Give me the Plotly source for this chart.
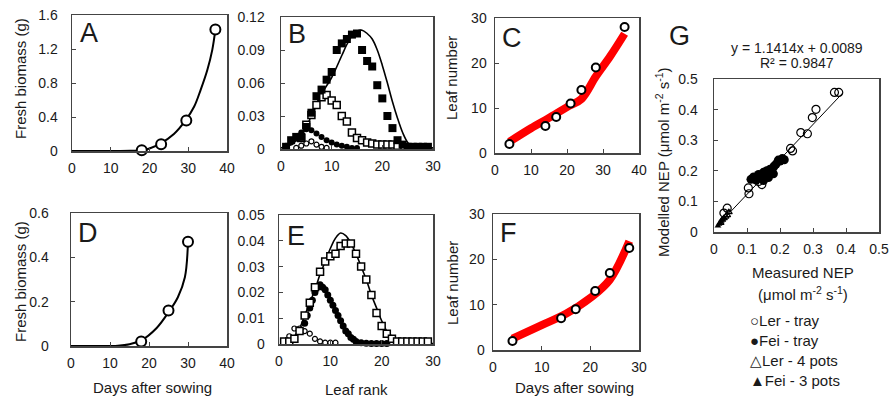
import plotly.graph_objects as go

W, H = 891, 397

# ---------------- data ----------------
# A: Ler fresh biomass
a_obs_day = [18, 23, 29.5, 37]
a_obs_mass = [0.01, 0.08, 0.36, 1.43]
a_mod_day = [0, 5, 10, 15, 18, 20, 22.8, 26.3, 29.3, 31.5, 33.2, 34.9, 36.2, 37]
a_mod_mass = [0, 0, 0, 0.002, 0.01, 0.03, 0.087, 0.2, 0.36, 0.52, 0.72, 0.95, 1.19, 1.43]

# D: Fei fresh biomass
d_obs_day = [18, 25, 30]
d_obs_mass = [0.02, 0.16, 0.47]
d_mod_day = [0, 5, 10, 12, 15, 18, 21.9, 25.3, 27.4, 29.2, 30]
d_mod_mass = [0, 0, 0, 0.001, 0.008, 0.025, 0.08, 0.16, 0.22, 0.31, 0.47]

# B: leaf mass by leaf rank (Ler)
b_fsq_rank = [1, 2, 3, 4, 5, 6, 7, 8, 9, 10, 11, 12, 13, 14, 15, 16, 17, 18, 19, 20, 21, 22, 23, 24, 25, 26, 27, 28, 29]
b_fsq_mass = [0.002, 0.008, 0.011, 0.011, 0.02, 0.033, 0.048, 0.054, 0.063, 0.07, 0.09, 0.096, 0.1, 0.104, 0.105, 0.09, 0.08, 0.075, 0.058, 0.046, 0.03, 0.019, 0.008, 0.004, 0.002, 0.002, 0.002, 0.002, 0.002]
b_osq_rank = [4, 5, 6, 7, 8, 9, 10, 11, 12, 13, 14, 15, 16, 17, 18, 19, 20, 21, 22, 23]
b_osq_mass = [0.01, 0.022, 0.031, 0.04, 0.047, 0.049, 0.044, 0.04, 0.03, 0.025, 0.015, 0.01, 0.008, 0.006, 0.005, 0.004, 0.004, 0.004, 0.004, 0.003]
b_fci_rank = [1, 2, 3, 4, 5, 6, 7, 8, 9, 10, 11, 12, 13, 14, 15]
b_fci_mass = [0.003, 0.006, 0.01, 0.015, 0.018, 0.017, 0.014, 0.011, 0.008, 0.006, 0.004, 0.003, 0.002, 0.001, 0.001]
b_oci_rank = [3, 4, 5, 6, 7, 8, 9]
b_oci_mass = [0.001, 0.003, 0.005, 0.007, 0.004, 0.002, 0.001]
b_mod_rank = [0, 2, 4, 6, 8, 10, 12, 13, 14, 15, 16, 17, 18, 19, 20, 21, 22, 23, 24, 25, 26, 27, 30]
b_mod_mass = [0.001, 0.004, 0.012, 0.03, 0.05, 0.065, 0.085, 0.095, 0.103, 0.107, 0.108, 0.105, 0.1, 0.09, 0.076, 0.06, 0.043, 0.028, 0.015, 0.006, 0.002, 0.001, 0.001]

# E: leaf mass by leaf rank (Fei)
e_osq_rank = list(range(1, 30))
e_osq_mass = [0.001, 0.001, 0.002, 0.005, 0.011, 0.016, 0.022, 0.028, 0.032, 0.034, 0.035, 0.038, 0.039, 0.039, 0.035, 0.03, 0.025, 0.019, 0.012, 0.007, 0.004, 0.002, 0.001, 0.001, 0.001, 0.001, 0.001, 0.001, 0.001]
e_fci_rank = [5, 5.5, 6, 6.5, 7, 7.5, 8, 8.5, 9, 9.5, 10, 10.5, 11, 11.5, 12, 12.5, 13, 13.5, 14, 14.5, 15, 16, 17, 18, 19, 20, 21]
e_fci_mass = [0.008, 0.011, 0.014, 0.017, 0.02, 0.022, 0.023, 0.022, 0.021, 0.019, 0.017, 0.015, 0.013, 0.011, 0.009, 0.007, 0.005, 0.004, 0.0025, 0.0018, 0.001, 0.0005, 0.0003, 0.0002, 0.0002, 0.0002, 0.0002]
e_oci_rank = [1, 2, 3, 4, 5, 6, 7, 8, 9, 10, 11]
e_oci_mass = [0.001, 0.003, 0.006, 0.006, 0.005, 0.004, 0.002, 0.001, 0.0005, 0.0005, 0.0005]
e_mod_rank = [1, 2, 3, 4, 5, 6, 7, 8, 9, 10, 11, 12, 13, 14, 15, 16, 17, 18, 19, 20, 21, 22, 23, 24, 25, 30]
e_mod_mass = [0.0005, 0.001, 0.003, 0.006, 0.011, 0.016, 0.021, 0.027, 0.032, 0.037, 0.041, 0.043, 0.042, 0.039, 0.035, 0.03, 0.025, 0.019, 0.014, 0.009, 0.005, 0.003, 0.0015, 0.0007, 0.0003, 0.0002]

# C: Ler leaf number
c_obs_day = [4, 14, 17, 21, 24, 28, 36]
c_obs_leaf = [2, 6, 8, 11, 14, 19, 28]
c_mod_day = [4, 10, 15, 20, 24, 28, 32, 36]
c_mod_leaf = [2.5, 5.5, 7.8, 10.2, 12, 17, 21.5, 26.5]

# F: Fei leaf number
f_obs_day = [4, 14, 17, 21, 24, 28]
f_obs_leaf = [2, 7, 9, 13, 17, 22.5]
f_mod_day = [4, 10, 15, 20, 24, 28]
f_mod_leaf = [2.5, 5.5, 8, 11.5, 15.5, 24]

# G: modelled vs measured NEP
g_ler_tray_x = [0.365, 0.378, 0.309, 0.298, 0.263, 0.283, 0.232, 0.238, 0.104, 0.106, 0.145, 0.135, 0.040, 0.030]
g_ler_tray_y = [0.456, 0.456, 0.401, 0.374, 0.325, 0.321, 0.273, 0.265, 0.144, 0.125, 0.155, 0.165, 0.078, 0.062]
g_fei_tray_x = [0.112, 0.120, 0.128, 0.135, 0.142, 0.150, 0.155, 0.160, 0.165, 0.170, 0.176, 0.182, 0.188, 0.195, 0.200, 0.207, 0.213, 0.150, 0.165, 0.180]
g_fei_tray_y = [0.172, 0.180, 0.170, 0.188, 0.182, 0.195, 0.190, 0.200, 0.185, 0.205, 0.198, 0.215, 0.222, 0.235, 0.232, 0.240, 0.236, 0.168, 0.178, 0.190]
g_ler_pots_x = [0.020, 0.025, 0.030, 0.035, 0.040, 0.045]
g_ler_pots_y = [0.030, 0.040, 0.045, 0.050, 0.055, 0.065]
g_fei_pots_x = [0.012, 0.015, 0.018, 0.022, 0.025, 0.030]
g_fei_pots_y = [0.020, 0.025, 0.030, 0.035, 0.040, 0.045]
g_slope, g_intercept = 1.1414, 0.0089
g_fit_x = [0.01, 0.39]
legend_labels = ["○Ler - tray", "●Fei - tray", "△Ler - 4 pots", "▲Fei - 3 pots"]

# ---------------- layout helpers ----------------
FONT = "Liberation Sans, Arial, sans-serif"
TXT = "#1a1a1a"
LINE = "#444"


def px(x, y):
    return x / W, 1 - y / H


def dom(x0, y0, x1, y1):
    return dict(domain=[x0 / W, x1 / W]), dict(domain=[1 - y1 / H, 1 - y0 / H])


fig = go.Figure()

open_c = dict(symbol="circle", color="white", size=10, line=dict(color="black", width=2))


def add(tr, k):
    ax = "" if k == 1 else str(k)
    tr.update(xaxis="x" + ax, yaxis="y" + ax, showlegend=False)
    fig.add_trace(tr)


# A
add(go.Scatter(x=a_mod_day, y=a_mod_mass, mode="lines", line=dict(color="black", width=2), line_shape="spline"), 1)
add(go.Scatter(x=a_obs_day, y=a_obs_mass, mode="markers", marker=open_c, cliponaxis=False), 1)
# B
add(go.Scatter(x=b_mod_rank, y=b_mod_mass, mode="lines", line=dict(color="black", width=1.6), line_shape="spline"), 2)
add(go.Scatter(x=b_fci_rank, y=b_fci_mass, mode="markers", marker=dict(symbol="circle", color="black", size=6), cliponaxis=False), 2)
add(go.Scatter(x=b_oci_rank, y=b_oci_mass, mode="markers", marker=dict(symbol="circle", color="white", size=5, line=dict(color="black", width=1.2)), cliponaxis=False), 2)
add(go.Scatter(x=b_osq_rank, y=b_osq_mass, mode="markers", marker=dict(symbol="square", color="white", size=7, line=dict(color="black", width=1.5)), cliponaxis=False), 2)
add(go.Scatter(x=b_fsq_rank, y=b_fsq_mass, mode="markers", marker=dict(symbol="square", color="black", size=8), cliponaxis=False), 2)
# C
add(go.Scatter(x=c_mod_day, y=c_mod_leaf, mode="lines", line=dict(color="#ff0000", width=8), line_shape="spline"), 3)
add(go.Scatter(x=c_obs_day, y=c_obs_leaf, mode="markers", marker=dict(symbol="circle", color="white", size=8, line=dict(color="black", width=2)), cliponaxis=False), 3)
# D
add(go.Scatter(x=d_mod_day, y=d_mod_mass, mode="lines", line=dict(color="black", width=2), line_shape="spline"), 4)
add(go.Scatter(x=d_obs_day, y=d_obs_mass, mode="markers", marker=open_c, cliponaxis=False), 4)
# E
add(go.Scatter(x=e_mod_rank, y=e_mod_mass, mode="lines", line=dict(color="black", width=1.6), line_shape="spline"), 5)
add(go.Scatter(x=e_fci_rank, y=e_fci_mass, mode="markers", marker=dict(symbol="circle", color="black", size=7), cliponaxis=False), 5)
add(go.Scatter(x=e_oci_rank, y=e_oci_mass, mode="markers", marker=dict(symbol="circle", color="white", size=5, line=dict(color="black", width=1.2)), cliponaxis=False), 5)
add(go.Scatter(x=e_osq_rank, y=e_osq_mass, mode="markers", marker=dict(symbol="square", color="white", size=7, line=dict(color="black", width=1.5)), cliponaxis=False), 5)
# F
add(go.Scatter(x=f_mod_day, y=f_mod_leaf, mode="lines", line=dict(color="#ff0000", width=8), line_shape="spline"), 6)
add(go.Scatter(x=f_obs_day, y=f_obs_leaf, mode="markers", marker=dict(symbol="circle", color="white", size=8, line=dict(color="black", width=2)), cliponaxis=False), 6)
# G
g_fit_y = [g_slope * v + g_intercept for v in g_fit_x]
add(go.Scatter(x=g_fit_x, y=g_fit_y, mode="lines", line=dict(color="black", width=1)), 7)
add(go.Scatter(x=g_ler_tray_x, y=g_ler_tray_y, mode="markers", marker=dict(symbol="circle-open", color="black", size=8, line=dict(width=1.2))), 7)
add(go.Scatter(x=g_fei_tray_x, y=g_fei_tray_y, mode="markers", marker=dict(symbol="circle", color="black", size=9)), 7)
add(go.Scatter(x=g_ler_pots_x, y=g_ler_pots_y, mode="markers", marker=dict(symbol="triangle-up-open", color="black", size=6, line=dict(width=1.2)), cliponaxis=False), 7)
add(go.Scatter(x=g_fei_pots_x, y=g_fei_pots_y, mode="markers", marker=dict(symbol="triangle-up", color="black", size=6), cliponaxis=False), 7)

# axes: (box px, xrange, xdtick, yrange, ydtick, y standoff)
panels = [
    ((72, 15, 227, 151), [0, 40], 10, [0, 1.6], 0.4, 10),
    ((281, 17, 433, 149), [0, 30], 10, [0, 0.12], 0.03, 12),
    ((495, 18, 639, 153), [0, 40], 10, [0, 30], 10, 4),
    ((71, 213, 227, 346), [0, 40], 10, [0, 0.6], 0.2, 18),
    ((279, 215, 433, 344), [0, 30], 10, [0, 0.05], 0.01, 10),
    ((493, 214, 639, 350), [0, 30], 10, [0, 30], 10, 4),
    ((714, 79, 879, 232), [0, 0.5], 0.1, [0, 0.5], 0.1, 12),
]
common = dict(showline=True, mirror=True, linecolor=LINE, linewidth=1.5, ticks="inside", ticklen=4,
              tickcolor=LINE, showgrid=False, zeroline=False, automargin=False,
              tickfont=dict(family=FONT, size=14, color=TXT))
lay = {}
for i, (box, xr, xd, yr, yd, ysd) in enumerate(panels, start=1):
    xdm, ydm = dom(*box)
    k = "" if i == 1 else str(i)
    lay["xaxis" + k] = dict(common, **xdm, range=xr, dtick=xd, tick0=0, anchor="y" + k, ticklabelstandoff=4)
    lay["yaxis" + k] = dict(common, **ydm, range=yr, dtick=yd, tick0=0, anchor="x" + k, ticklabelstandoff=ysd)

ann = []


def text(x, y, s, size=14, angle=0, xanchor="center"):
    xx, yy = px(x, y)
    ann.append(dict(x=xx, y=yy, xref="paper", yref="paper", text=s, showarrow=False, textangle=angle,
                    xanchor=xanchor, yanchor="middle", font=dict(family=FONT, size=size, color=TXT)))


# panel letters
for L, x, y in [("A", 78, 33), ("B", 286, 34), ("C", 500, 38), ("D", 76, 233), ("E", 285, 236), ("F", 498, 233), ("G", 667, 36)]:
    text(x, y, L, size=27, xanchor="left")

text(20, 79, "Fresh biomass (g)", 15, -90)
text(20, 282, "Fresh biomass (g)", 15, -90)
text(452, 78, "Leaf number", 15, -90)
text(452, 283, "Leaf number", 15, -90)
text(662, 162, "Modelled NEP (μmol m<sup>-2</sup> s<sup>-1</sup>)", 15, -90)
text(152, 387, "Days after sowing", 15)
text(356, 389, "Leaf rank", 15)
text(574, 387, "Days after sowing", 15)
text(803, 272, "Measured NEP", 15)
text(803, 293, "(μmol m<sup>-2</sup> s<sup>-1</sup>)", 15)
text(797, 48, "y = 1.1414x + 0.0089", 14)
text(797, 63, "R² = 0.9847", 14)
for j, lab in enumerate(legend_labels):
    text(748, 320 + 20 * j, lab, 15, xanchor="left")

fig.update_layout(width=W, height=H, margin=dict(l=0, r=0, t=0, b=0), paper_bgcolor="white",
                  plot_bgcolor="white", annotations=ann, hovermode=False, **lay)
fig.write_html("out.html", config={"displayModeBar": False, "staticPlot": True},
               post_script="document.body.style.margin='0';document.body.style.overflow='hidden';")
